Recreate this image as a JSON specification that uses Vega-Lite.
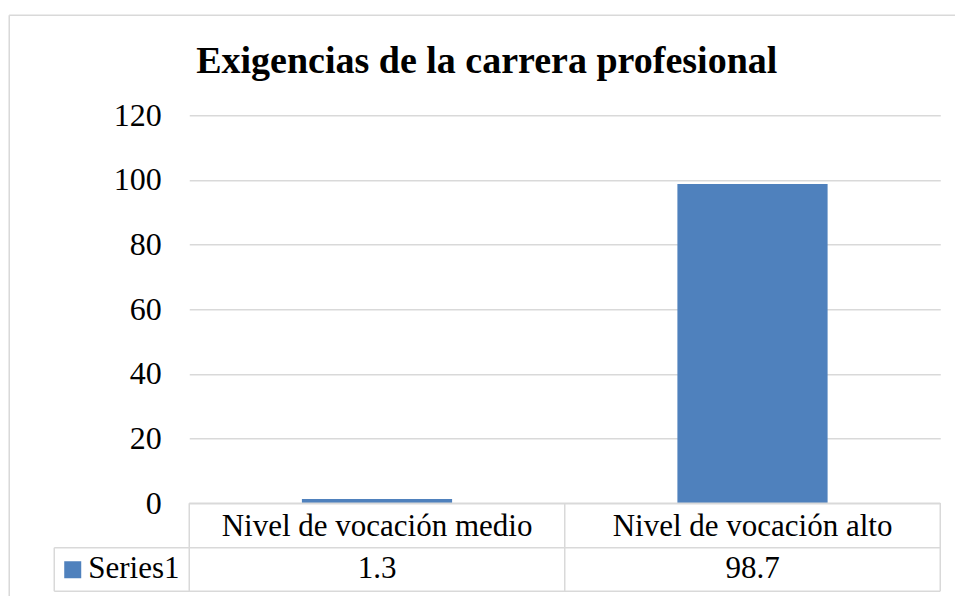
{
  "$schema": "https://vega.github.io/schema/vega-lite/v6.json",
  "width": 751,
  "height": 476,
  "padding": {"left": 8.25, "top": 14.25, "right": 0, "bottom": 0},
  "background": "#ffffff",
  "title": {
    "text": "Exigencias de la carrera profesional",
    "font": "Liberation Serif",
    "fontSize": 38,
    "fontWeight": "bold",
    "color": "#000000",
    "baseline": "alphabetic",
    "anchor": "middle",
    "frame": "bounds",
    "offset": -56.5,
    "dx": 4.5,
    "dy": 40
  },
  "config": {
    "view": {"stroke": null},
    "axis": {
      "labelFont": "Liberation Serif",
      "labelFontSize": 32,
      "labelColor": "#000000",
      "gridColor": "#D9D9D9",
      "gridWidth": 1.5,
      "domain": false,
      "ticks": false,
      "labelPadding": 28
    }
  },
  "resolve": {"scale": {"x": "independent"}, "axis": {"x": "independent"}},
  "layer": [
    {
      "data": {
        "values": [
          {"cat": "Nivel de vocación medio", "value": 1.3},
          {"cat": "Nivel de vocación alto", "value": 98.7}
        ]
      },
      "layer": [
        {
          "mark": {"type": "bar", "color": "#4F81BD", "width": {"band": 0.4}},
          "encoding": {
            "x": {"field": "cat", "type": "nominal", "sort": null, "axis": null, "scale": {"paddingInner": 0, "paddingOuter": 0}},
            "y": {
              "field": "value",
              "type": "quantitative",
              "title": null,
              "scale": {"domain": [-27.22, 120], "nice": false, "zero": false},
              "axis": {"values": [0, 20, 40, 60, 80, 100, 120], "grid": true, "title": null}
            }
          }
        },
        {
          "mark": {"type": "text", "font": "Liberation Serif", "fontSize": 31, "color": "#000000", "baseline": "alphabetic", "align": "center"},
          "encoding": {
            "x": {"field": "cat", "type": "nominal", "sort": null, "axis": null},
            "y": {"datum": -10.1, "type": "quantitative", "title": null},
            "text": {"field": "cat"}
          }
        },
        {
          "mark": {"type": "text", "font": "Liberation Serif", "fontSize": 31, "color": "#000000", "baseline": "alphabetic", "align": "center"},
          "encoding": {
            "x": {"field": "cat", "type": "nominal", "sort": null, "axis": null},
            "y": {"datum": -23.2, "type": "quantitative", "title": null},
            "text": {"field": "value", "type": "quantitative", "format": ".1f"}
          }
        }
      ]
    },
    {
      "data": {"values": [{}]},
      "layer": [
        {
          "mark": {"type": "rule", "color": "#D9D9D9", "strokeWidth": 1.5},
          "encoding": {
            "x": {"datum": 0, "type": "quantitative", "axis": null, "scale": {"domain": [0, 2], "nice": false, "zero": false}},
            "x2": {"datum": 2},
            "y": {"datum": 0, "type": "quantitative", "title": null}
          }
        },
        {
          "mark": {"type": "rule", "color": "#D9D9D9", "strokeWidth": 1.5},
          "encoding": {
            "x": {"datum": -0.3595, "type": "quantitative", "axis": null},
            "x2": {"datum": 2},
            "y": {"datum": -13.76, "type": "quantitative", "title": null}
          }
        },
        {
          "mark": {"type": "rule", "color": "#D9D9D9", "strokeWidth": 1.5},
          "encoding": {
            "x": {"datum": -0.3595, "type": "quantitative", "axis": null},
            "x2": {"datum": 2},
            "y": {"datum": -27.22, "type": "quantitative", "title": null}
          }
        },
        {
          "mark": {"type": "rule", "color": "#D9D9D9", "strokeWidth": 1.5},
          "encoding": {
            "x": {"datum": 0, "type": "quantitative", "axis": null},
            "y": {"datum": 0, "type": "quantitative", "title": null},
            "y2": {"datum": -27.22}
          }
        },
        {
          "mark": {"type": "rule", "color": "#D9D9D9", "strokeWidth": 1.5},
          "encoding": {
            "x": {"datum": 1, "type": "quantitative", "axis": null},
            "y": {"datum": 0, "type": "quantitative", "title": null},
            "y2": {"datum": -27.22}
          }
        },
        {
          "mark": {"type": "rule", "color": "#D9D9D9", "strokeWidth": 1.5},
          "encoding": {
            "x": {"datum": 2, "type": "quantitative", "axis": null},
            "y": {"datum": 0, "type": "quantitative", "title": null},
            "y2": {"datum": -27.22}
          }
        },
        {
          "mark": {"type": "rule", "color": "#D9D9D9", "strokeWidth": 1.5},
          "encoding": {
            "x": {"datum": -0.3595, "type": "quantitative", "axis": null},
            "y": {"datum": -13.76, "type": "quantitative", "title": null},
            "y2": {"datum": -27.22}
          }
        },
        {
          "mark": {"type": "rule", "color": "#D9D9D9", "strokeWidth": 1.5},
          "encoding": {
            "x": {"datum": -0.4794, "type": "quantitative", "axis": null},
            "x2": {"datum": 2.04},
            "y": {"datum": 150.93, "type": "quantitative", "title": null}
          }
        },
        {
          "mark": {"type": "rule", "color": "#D9D9D9", "strokeWidth": 1.5},
          "encoding": {
            "x": {"datum": -0.4794, "type": "quantitative", "axis": null},
            "y": {"datum": 150.93, "type": "quantitative", "title": null},
            "y2": {"datum": -28.76}
          }
        },
        {
          "mark": {"type": "point", "shape": "square", "filled": true, "size": 289, "color": "#4F81BD", "opacity": 1, "strokeWidth": 0},
          "encoding": {
            "x": {"datum": -0.3103, "type": "quantitative", "axis": null},
            "y": {"datum": -20.57, "type": "quantitative", "title": null}
          }
        },
        {
          "mark": {"type": "text", "text": "Series1", "font": "Liberation Serif", "fontSize": 31, "color": "#000000", "baseline": "alphabetic", "align": "left"},
          "encoding": {
            "x": {"datum": -0.269, "type": "quantitative", "axis": null},
            "y": {"datum": -23.2, "type": "quantitative", "title": null}
          }
        }
      ]
    }
  ]
}
